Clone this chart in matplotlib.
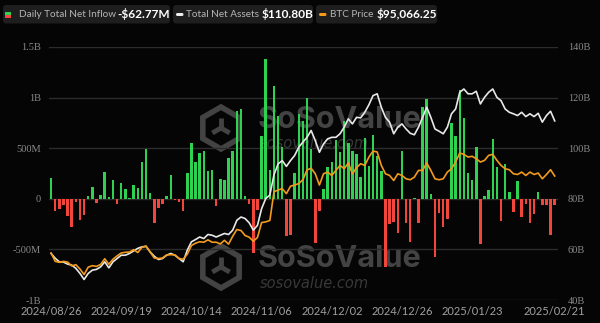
import numpy as np
import pandas as pd
import matplotlib
matplotlib.use("Agg")
import matplotlib.pyplot as plt
from matplotlib.patches import FancyBboxPatch, Rectangle, Polygon
from matplotlib.transforms import Affine2D

# trading days 2024/08/26 - 2025/02/21 (US market holidays removed)
holidays = ['2024-09-02', '2024-11-28', '2024-12-25', '2025-01-01',
            '2025-01-09', '2025-01-20', '2025-02-17']
days = pd.bdate_range('2024-08-26', '2025-02-21')
days = days[~days.isin(pd.to_datetime(holidays))]
dates = [d.strftime('%Y/%m/%d') for d in days]

# daily total net inflow, million USD
inflow = [204, -125, -102, -66, -174, -283, -36, -207, -164, 30,
          118, -43, 40, 263, 16, 188, -53, 158, 92, 5,
          135, 105, 368, 493, 59, -240, -86, -49, 26, 237,
          -16, -36, -118, 253, 556, 368, 457, 470, 276, 286,
          -76, 194, 188, 401, 477, 868, 891, 30, -53, -536,
          -109, 620, 1378, 288, 1113, 817, 510, -372, -355, 252,
          840, 770, 1000, 490, -435, -116, 99, 319, 359, 582,
          467, 770, 556, 474, 441, 220, 599, 326, 632, 418,
          270, -677, -250, -226, -335, 474, -243, -423, 7, -237,
          911, 984, 50, -572, -145, -278, -200, 753, 622, 1076,
          803, 250, 188, 516, -447, 23, 89, 589, 319, -224,
          342, 66, -135, 171, -181, -49, -240, -151, 66, -59,
          -66, -355, -62.77]

# total net assets, billion USD
net_assets = [58.4, 56.5, 55.1, 55.0, 54.2, 53.8, 52.5, 50.5, 48.1, 50.5,
              51.8, 52.1, 53.1, 55.1, 52.7, 55.1, 56.4, 57.7, 57.7, 58.4,
              59.4, 60.4, 61.0, 61.2, 59.0, 57.3, 56.0, 56.4, 57.7, 58.4,
              57.7, 56.4, 55.1, 59.7, 63.0, 63.9, 64.9, 64.3, 65.9, 65.6,
              64.9, 65.6, 66.3, 65.9, 67.6, 71.5, 72.8, 72.2, 70.5, 67.6,
              69.5, 76.1, 80.1, 81.5, 89.5, 93.8, 95.1, 92.8, 95.1, 97.1,
              100.4, 102.4, 104.3, 107.0, 103.0, 98.4, 101.7, 103.7, 104.3, 104.3,
              105.7, 108.3, 111.6, 109.6, 112.2, 112.0, 114.2, 117.2, 120.8, 121.5,
              116.2, 112.2, 110.3, 105.7, 108.3, 109.6, 107.6, 105.9, 105.3, 108.3,
              112.2, 116.2, 112.2, 107.6, 106.7, 105.7, 108.3, 113.6, 115.5, 122.1,
              123.4, 121.5, 121.5, 122.5, 117.5, 120.1, 122.1, 123.4, 120.1, 118.8,
              115.5, 114.2, 113.6, 112.9, 114.2, 112.5, 113.6, 112.5, 113.8, 110.3,
              112.9, 114.6, 110.80]

# BTC price, thousand USD
btc = [62.9, 59.4, 59.0, 59.4, 59.1, 57.5, 58.0, 56.2, 53.9, 57.0,
       57.6, 57.3, 58.1, 60.5, 58.2, 60.3, 61.7, 62.9, 63.2, 63.3,
       64.3, 63.1, 65.2, 65.8, 63.3, 60.8, 60.6, 60.8, 62.1, 62.2,
       62.1, 60.6, 60.3, 62.4, 66.0, 67.0, 67.6, 67.4, 68.4, 67.4,
       67.4, 66.7, 68.2, 66.6, 69.9, 72.7, 72.3, 70.2, 69.5, 67.8,
       69.4, 75.6, 75.9, 76.5, 88.5, 89.2, 89.8, 87.7, 90.8, 91.3,
       91.9, 93.5, 97.6, 98.3, 96.0, 91.3, 96.0, 96.7, 95.3, 97.4,
       99.5, 98.1, 100.5, 96.0, 98.6, 100.2, 99.5, 103.0, 105.5, 105.1,
       99.5, 96.0, 95.3, 93.2, 96.0, 95.3, 93.9, 93.5, 94.6, 97.4,
       97.4, 100.5, 97.4, 93.9, 93.5, 93.9, 96.7, 98.1, 100.9, 104.7,
       104.1, 103.0, 103.3, 102.3, 100.9, 101.6, 103.7, 104.1, 101.6, 99.5,
       98.1, 97.7, 96.0, 95.7, 96.7, 95.3, 96.7, 95.7, 96.3, 93.9,
       95.7, 97.7, 95.066]

left_ticks = [-1000, -500, 0, 500, 1000, 1500]
left_labels = ['-1B', '-500M', '0', '500M', '1B', '1.5B']
right_ticks = [40, 60, 80, 100, 120, 140]
right_labels = ['40B', '60B', '80B', '100B', '120B', '140B']
x_labels = ['2024/08/26', '2024/09/19', '2024/10/14', '2024/11/06',
            '2024/12/02', '2024/12/26', '2025/01/23', '2025/02/21']

BG = '#050505'
GREEN = '#2fd151'
RED = '#f2453b'
ORANGE = '#f39a1c'
WM = '#434343'

fig = plt.figure(figsize=(6, 3.23), dpi=100, facecolor=BG)
# top-left pixel coordinates
px = Affine2D().scale(1 / 100, -1 / 100).translate(0, 3.23) + fig.dpi_scale_trans

ax = fig.add_axes([49 / 600, 23 / 323, 509 / 600, 253 / 323])
ax.set_facecolor(BG)
colors = [GREEN if v >= 0 else RED for v in inflow]
ax.bar(dates, inflow, width=0.6, color=colors, zorder=2)
ax.set_ylim(-1000, 1500)
ax.set_xlim(-0.5, len(dates) - 0.2)
ax.set_yticks(left_ticks)
ax.set_yticklabels(left_labels, family='Liberation Serif', fontsize=7.5, color='#8a8a8a')
ax.set_xticks(x_labels)
ax.set_xticklabels(x_labels, family='Lato', fontsize=8, color='#a0a0a0')
ax.tick_params(length=0, pad=6)
ax.tick_params(axis='x', pad=4)
ax.grid(axis='y', color='#2c2c2c', lw=1, zorder=0)
for s in ax.spines.values():
    s.set_visible(False)

ax2 = ax.twinx()
ax2.plot(dates, net_assets, color='#e8e8e8', lw=1.2, zorder=3)
ax2.set_ylim(40, 140)
ax2.set_yticks(right_ticks)
ax2.set_yticklabels(right_labels, family='Liberation Serif', fontsize=7.5, color='#8a8a8a')
ax2.tick_params(length=0, pad=7)

ax3 = ax.twinx()
ax3.plot(dates, btc, color=ORANGE, lw=1.2, zorder=3)
ax3.set_ylim(43.26, 148.97)
ax3.set_yticks([])
for a in (ax2, ax3):
    for s in a.spines.values():
        s.set_visible(False)

# watermarks
def watermark(y0):
    cx, cy, r = 221, y0 + 23, 21
    ang = np.deg2rad(90 + 60 * np.arange(6))
    hexagon = Polygon(np.c_[cx + r * np.cos(ang), cy - r * np.sin(ang)], closed=True,
                      fill=False, ec=WM, lw=4, transform=px, zorder=1, clip_on=False)
    ax.add_patch(hexagon)
    r2 = 10
    for a_deg in (90, 210, 330):
        a_r = np.deg2rad(a_deg)
        ax.plot([cx, cx + r2 * np.cos(a_r)], [cy, cy - r2 * np.sin(a_r)], color=WM,
                lw=3.5, transform=px, zorder=1, clip_on=False, solid_capstyle='butt')
    ax.text(258, y0 + 15, 'SoSoValue', transform=px, family='Inter', weight='bold',
            fontsize=22, color=WM, va='center', ha='left', zorder=1)
    ax.text(260, y0 + 39, 'sosovalue.com', transform=px, family='DejaVu Sans', style='italic',
            fontsize=10.5, color='#383838', va='center', ha='left', zorder=1)

watermark(105)
watermark(244)

# header legend boxes
boxes = [(3, 170), (173, 313), (316, 437)]
for x0, x1 in boxes:
    fig.patches.append(FancyBboxPatch((x0, 5), x1 - x0, 18.5,
                                      boxstyle='round,pad=0,rounding_size=3',
                                      fc='#1e1e1e', ec='none', transform=px))
fig.patches.append(Rectangle((5, 11.5), 5.5, 3, fc=GREEN, ec='none', transform=px))
fig.patches.append(Rectangle((5, 14.5), 5.5, 3, fc=RED, ec='none', transform=px))
fig.patches.append(FancyBboxPatch((176, 13), 7.5, 3, boxstyle='round,pad=0,rounding_size=1.5',
                                  fc='#eeeeee', ec='none', transform=px))
fig.patches.append(FancyBboxPatch((319, 13), 7.5, 3, boxstyle='round,pad=0,rounding_size=1.5',
                                  fc=ORANGE, ec='none', transform=px))

header = [(19, 'Daily Total Net Inflow', 117, '-$62.77M'),
          (186.5, 'Total Net Assets', 261.5, '$110.80B'),
          (330, 'BTC Price', 376.5, '$95,066.25')]
for lx, label, vx, value in header:
    fig.text(lx, 14.5, label, transform=px, family='Lato', fontsize=7.2,
             color='#b4b4b4', va='center', ha='left')
    fig.text(vx, 14.5, value, transform=px, family='Lato', weight='bold', fontsize=8.6,
             color='#ffffff', va='center', ha='left')

fig.savefig('out.png', dpi=100, facecolor=BG)
